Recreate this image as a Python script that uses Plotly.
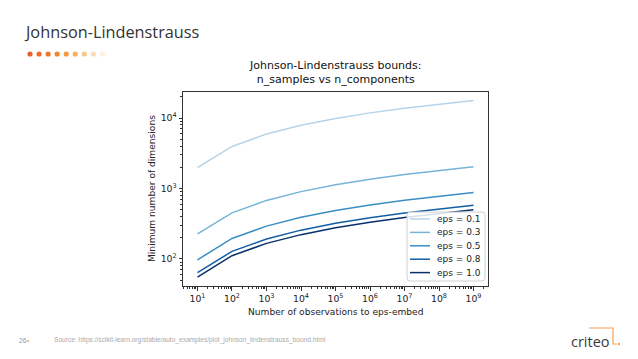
import plotly.graph_objects as go

n_samples = [1e1, 1e2, 1e3, 1e4, 1e5, 1e6, 1e7, 1e8, 1e9]
eps_labels = ["eps = 0.1", "eps = 0.3", "eps = 0.5", "eps = 0.8", "eps = 1.0"]
dims_eps01 = [1974, 3948, 5921, 7895, 9869, 11843, 13817, 15790, 17764]
dims_eps03 = [226, 451, 677, 902, 1128, 1354, 1579, 1805, 2031]
dims_eps05 = [97, 195, 292, 390, 487, 584, 682, 779, 877]
dims_eps08 = [64, 128, 192, 256, 320, 384, 448, 512, 576]
dims_eps10 = [55, 111, 166, 221, 276, 332, 387, 442, 498]
series = [dims_eps01, dims_eps03, dims_eps05, dims_eps08, dims_eps10]
colors = ["#b6d4e9", "#75b4d8", "#3b8ec3", "#125ea6", "#08306b"]

x_tickvals = [10**k for k in range(1, 10)]
x_ticktext = [f"10<sup>{k}</sup>" for k in range(1, 10)]
y_tickvals = [1e2, 1e3, 1e4]
y_ticktext = ["10<sup>2</sup>", "10<sup>3</sup>", "10<sup>4</sup>"]

x_minor = [m * 10**k for k in range(0, 10) for m in range(2, 10)]
y_minor = [m * 10**k for k in range(1, 5) for m in range(2, 10)]

W, H = 638, 359
fig = go.Figure()
for vals, lab, col in zip(series, eps_labels, colors):
    fig.add_trace(go.Scatter(x=n_samples, y=vals, mode="lines", name=lab,
                             line=dict(color=col, width=1.5), showlegend=False))

x0, x1, y0, y1 = 183, 488, 92, 286
axis_font = dict(family="DejaVu Sans", size=9.3, color="#222")
fig.update_layout(
    width=W, height=H, margin=dict(l=0, r=0, t=0, b=0),
    paper_bgcolor="white", plot_bgcolor="white", showlegend=False,
    xaxis=dict(type="log", domain=[x0 / W, x1 / W], range=[0.58, 9.42],
               tickvals=x_tickvals, ticktext=x_ticktext, tickfont=axis_font,
               showgrid=False, zeroline=False, showline=True, mirror=True,
               linecolor="#333", linewidth=1, ticks="outside", ticklen=3.5,
               tickcolor="#333",
               minor=dict(tickvals=x_minor, ticks="outside", ticklen=2,
                          tickcolor="#333", showgrid=False)),
    yaxis=dict(type="log", domain=[1 - y1 / H, 1 - y0 / H], range=[1.615, 4.37],
               tickvals=y_tickvals, ticktext=y_ticktext, tickfont=axis_font,
               showgrid=False, zeroline=False, showline=True, mirror=True,
               linecolor="#333", linewidth=1, ticks="outside", ticklen=3.5,
               tickcolor="#333",
               minor=dict(tickvals=y_minor, ticks="outside", ticklen=2,
                          tickcolor="#333", showgrid=False)),
)

def px(x):
    return x / W

def py(y):
    return 1 - y / H

ann = []
ann.append(dict(text="Johnson-Lindenstrauss bounds:<br>n_samples vs n_components",
                x=px(335.5), y=py(57), xref="paper", yref="paper",
                xanchor="center", yanchor="top", showarrow=False,
                font=dict(family="DejaVu Sans", size=11, color="#111")))
ann.append(dict(text="Number of observations to eps-embed",
                x=px(335.5), y=py(312), xref="paper", yref="paper",
                xanchor="center", yanchor="middle", showarrow=False,
                font=dict(family="DejaVu Sans", size=9.1, color="#222")))
ann.append(dict(text="Minimum number of dimensions", textangle=-90,
                x=px(152), y=py(189), xref="paper", yref="paper",
                xanchor="center", yanchor="middle", showarrow=False,
                font=dict(family="DejaVu Sans", size=9.1, color="#222")))

shapes = []
# legend (drawn manually to match matplotlib's compact spacing)
lx0, lx1, ly0, ly1, r = 407, 485, 212, 281, 3
shapes.append(dict(type="path", xref="paper", yref="paper",
                   path=(f"M {px(lx0+r)} {py(ly0)} L {px(lx1-r)} {py(ly0)} "
                         f"Q {px(lx1)} {py(ly0)} {px(lx1)} {py(ly0+r)} "
                         f"L {px(lx1)} {py(ly1-r)} Q {px(lx1)} {py(ly1)} {px(lx1-r)} {py(ly1)} "
                         f"L {px(lx0+r)} {py(ly1)} Q {px(lx0)} {py(ly1)} {px(lx0)} {py(ly1-r)} "
                         f"L {px(lx0)} {py(ly0+r)} Q {px(lx0)} {py(ly0)} {px(lx0+r)} {py(ly0)} Z"),
                   fillcolor="rgba(255,255,255,0.85)", line=dict(color="#d0d0d0", width=1)))
for i, (lab, col) in enumerate(zip(eps_labels, colors)):
    yy = 219 + i * 13.4
    shapes.append(dict(type="line", xref="paper", yref="paper",
                       x0=px(410), x1=px(430), y0=py(yy), y1=py(yy),
                       line=dict(color=col, width=1.5)))
    ann.append(dict(text=lab, x=px(435), y=py(yy), xref="paper", yref="paper",
                    xanchor="left", yanchor="middle", showarrow=False,
                    font=dict(family="DejaVu Sans", size=9, color="#222")))

# slide title
ann.append(dict(text="Johnson-Lindenstrauss", x=px(22), y=py(32),
                xref="paper", yref="paper", xanchor="left", yanchor="middle",
                showarrow=False, font=dict(family="Open Sans", size=16.3, color="#333")))
# footer
ann.append(dict(text="26", x=px(17), y=py(340), xref="paper", yref="paper",
                xanchor="left", yanchor="middle", showarrow=False,
                font=dict(family="Liberation Sans", size=6.8, color="#999")))
ann.append(dict(text="•", x=px(25), y=py(340), xref="paper", yref="paper",
                xanchor="left", yanchor="middle", showarrow=False,
                font=dict(family="Liberation Sans", size=6.8, color="#f0b030")))
ann.append(dict(text="Source: https://scikit-learn.org/stable/auto_examples/plot_johnson_lindenstrauss_bound.html",
                x=px(52), y=py(340), xref="paper", yref="paper",
                xanchor="left", yanchor="middle", showarrow=False,
                font=dict(family="Liberation Sans", size=6.6, color="#aaa")))
ann.append(dict(text="criteo", x=px(569), y=py(341), xref="paper", yref="paper",
                xanchor="left", yanchor="middle", showarrow=False,
                font=dict(family="Open Sans", size=14.5, color="#3a3a3a")))
fig.update_layout(annotations=ann)

dot_colors = ["#e8622a", "#ec6a2a", "#ef772d", "#f2862f", "#f4983d",
              "#f6af5f", "#f9c68a", "#fbdcb5", "#fdf0e4"]
for i, c in enumerate(dot_colors):
    cx = 30 + i * 9.05
    cy = 54
    shapes.append(dict(type="circle", xref="paper", yref="paper",
                       x0=px(cx - 2.6), x1=px(cx + 2.6),
                       y0=py(cy + 2.6), y1=py(cy - 2.6),
                       fillcolor=c, line=dict(width=0)))
# criteo logo bracket
shapes.append(dict(type="path", xref="paper", yref="paper",
                   path=(f"M {px(589)} {py(328)} L {px(613)} {py(328)} "
                         f"L {px(613)} {py(344)} L {px(617)} {py(344)}"),
                   line=dict(color="#f7a050", width=1.2)))
shapes.append(dict(type="circle", xref="paper", yref="paper",
                   x0=px(618), x1=px(620), y0=py(345), y1=py(343),
                   fillcolor="#f58220", line=dict(width=0)))
fig.update_layout(shapes=shapes)

fig.write_html("out.html", config={"displayModeBar": False},
               post_script="document.body.style.margin='0px';document.body.style.padding='0px';")
